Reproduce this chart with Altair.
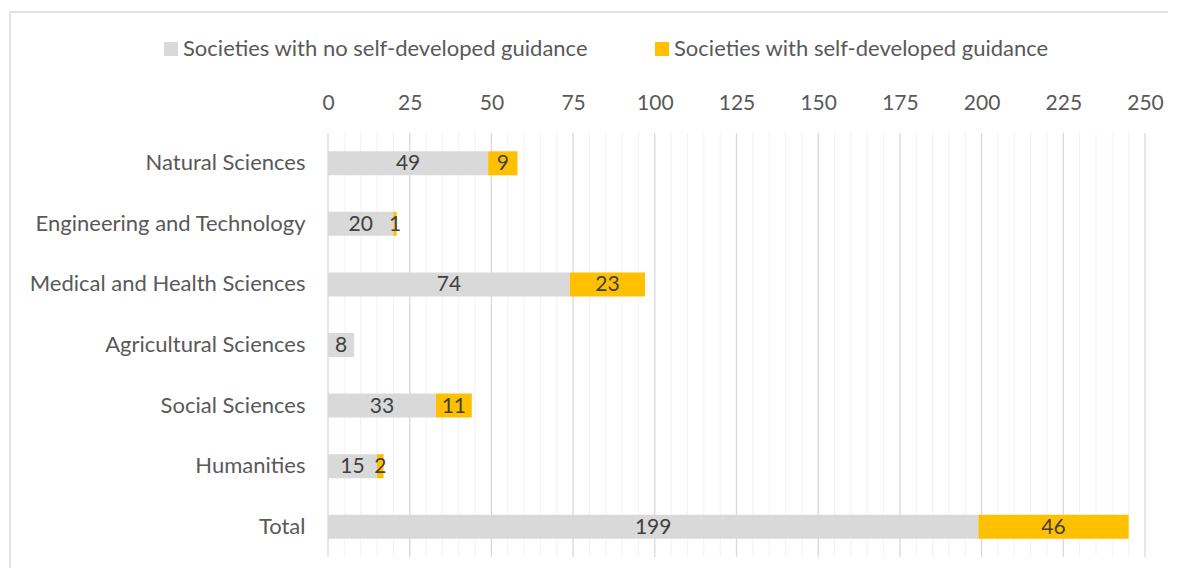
import altair as alt
import pandas as pd

categories = ["Natural Sciences", "Engineering and Technology", "Medical and Health Sciences",
              "Agricultural Sciences", "Social Sciences", "Humanities", "Total"]
no_guidance = [49, 20, 74, 8, 33, 15, 199]
with_guidance = [9, 1, 23, 0, 11, 2, 46]
series = ["Societies with no self-developed guidance", "Societies with self-developed guidance"]
colors = ["#d9d9d9", "#ffc000"]
major_ticks = list(range(0, 251, 25))
minor_ticks = [v for v in range(0, 251, 5) if v % 25 != 0]

FONT = "Lato"

rows = []
for c, a, b in zip(categories, no_guidance, with_guidance):
    rows.append({"category": c, "series": series[0], "value": a, "order": 0})
    rows.append({"category": c, "series": series[1], "value": b, "order": 1})
df = pd.DataFrame(rows)

x_scale = alt.Scale(domain=[0, 250], nice=False, zero=True)
x_axis = alt.Axis(orient="top", values=major_ticks, domain=False, ticks=False, tickSize=0,
                  labelOverlap=False, labelFlush=False, labelPadding=20, labelFontSize=21,
                  grid=False, labelColor="#595959", labelFont=FONT)
y_axis = alt.Axis(domain=False, ticks=False, grid=False, labelPadding=23,
                  labelFontSize=22, labelColor="#595959", labelFont=FONT, labelLimit=0)
y_scale = alt.Scale(paddingInner=0, paddingOuter=0)

minor = alt.Chart(pd.DataFrame({"t": minor_ticks})).mark_rule(color="#f2f2f2", strokeWidth=1).encode(
    x=alt.X("t:Q", scale=x_scale, axis=x_axis, title=None))
major = alt.Chart(pd.DataFrame({"t": major_ticks})).mark_rule(color="#d9d9d9", strokeWidth=1.3).encode(
    x=alt.X("t:Q", scale=x_scale, axis=x_axis, title=None))

base = alt.Chart(df).transform_stack(
    stack="value", as_=["x0", "x1"], groupby=["category"], sort=[alt.SortField("order")]
).transform_calculate(mid="(datum.x0 + datum.x1) / 2")

bars = base.mark_bar(size=24).encode(
    y=alt.Y("category:N", sort=categories, title=None, scale=y_scale, axis=y_axis),
    x=alt.X("x0:Q", scale=x_scale, axis=x_axis, title=None),
    x2="x1:Q",
    color=alt.Color("series:N", sort=series, scale=alt.Scale(domain=series, range=colors),
                    legend=alt.Legend(title=None, orient="none", direction="horizontal",
                                      legendX=-168, legendY=-95, symbolType="square",
                                      symbolSize=196, symbolStrokeWidth=0, labelFontSize=22,
                                      labelColor="#595959", labelFont=FONT, columnPadding=63,
                                      labelOffset=1, labelLimit=0)),
    order=alt.Order("order:Q"),
)

labels = base.transform_filter("datum.value > 0").mark_text(
    fontSize=21, color="#404040", font=FONT, baseline="middle", align="center", dy=1
).encode(
    y=alt.Y("category:N", sort=categories, title=None, scale=y_scale, axis=y_axis),
    x=alt.X("mid:Q", scale=x_scale, axis=x_axis, title=None),
    text=alt.Text("value:Q"),
)

frame = pd.DataFrame({"a": [0]})
top_line = alt.Chart(frame).mark_rule(color="#d9d9d9", strokeWidth=1.5).encode(
    x=alt.value(-318), x2=alt.value(840), y=alt.value(-121))
left_line = alt.Chart(frame).mark_rule(color="#d9d9d9", strokeWidth=1.5).encode(
    x=alt.value(-318), y=alt.value(-121), y2=alt.value(436))

chart = alt.layer(minor, major, top_line, left_line, bars, labels).properties(
    width=817, height=424,
    autosize=alt.AutoSizeParams(type="none"),
    padding={"left": 320, "top": 125, "right": 31, "bottom": 11},
).configure_view(strokeWidth=0)

chart.save("out.html", embed_options={"renderer": "svg", "actions": False})
